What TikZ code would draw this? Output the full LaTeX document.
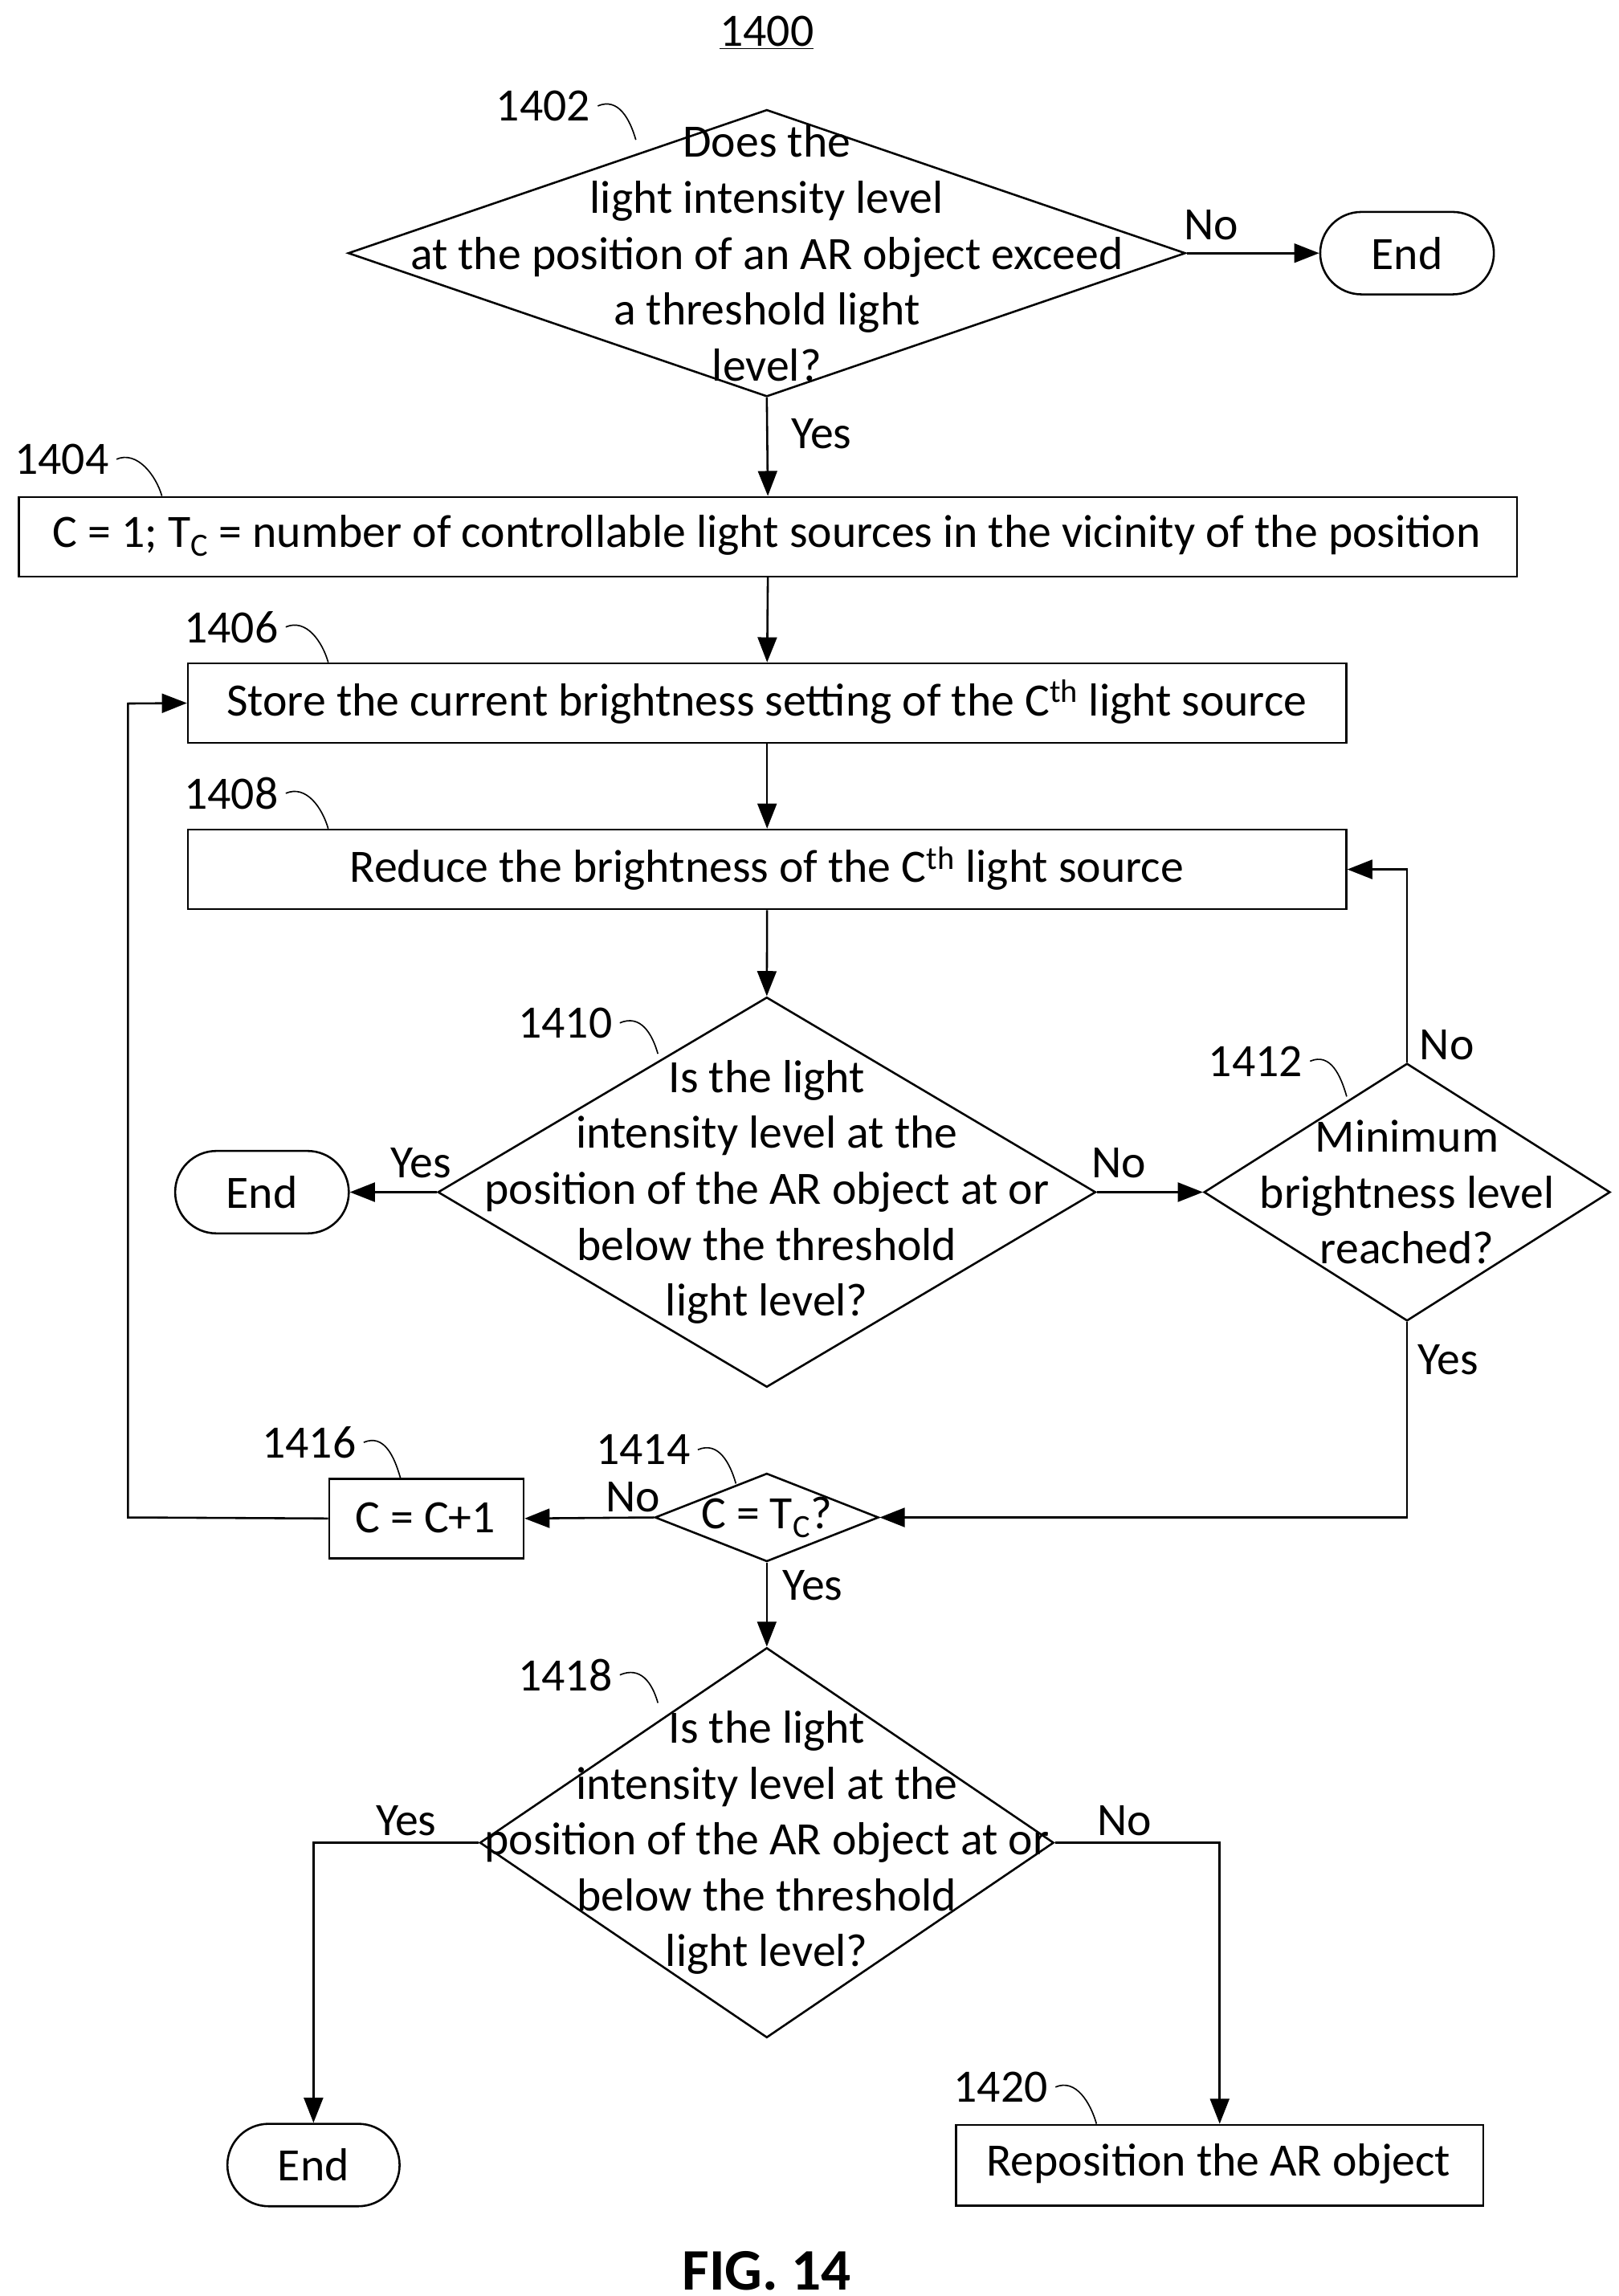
\documentclass[tikz,border=0pt]{standalone}
\usepackage{fontspec}
\setmainfont{Carlito}
\usetikzlibrary{shapes.geometric,shapes.misc,arrows.meta}
\begin{document}
\begin{tikzpicture}[x=1pt,y=-1pt,
  every node/.style={font=\fontsize{31.5}{38}\selectfont},
  ln/.style={line width=1.4pt},
  arr/.style={ln,-{Triangle[length=17pt,width=13pt]}},
  box/.style={draw,ln,rectangle,inner sep=0,anchor=north west},
  dia/.style={draw,ln,diamond,inner sep=0},
  term/.style={draw,ln,rounded rectangle,inner sep=0},
  tx/.style={align=center,inner sep=0},
  sq/.style={line width=0.9pt}]
\useasboundingbox (0,0) rectangle (1100,1560);
\node[tx] (title) at (521,22) {\underline{1400}};
% 1402
\node[dia,minimum width=569,minimum height=195] (d1) at (521,172) {};
\node[tx] (d1t) at (521,172) {Does the\\light intensity level\\at the position of an AR object exceed\\a threshold light\\level?};
\node[term,minimum width=118,minimum height=56] (e1) at (956,172) {End};
\draw[arr] (d1.east) -- (e1.west);
\node (n1) at (823,153) {No};
% 1404
\node[box,minimum width=1018,minimum height=54] (b4) at (12,337) {};
\node[tx] (b4t) at (521,364) {C = 1; T\textsubscript{C} = number of controllable light sources in the vicinity of the position};
\draw[arr] (d1.south) -- (b4.north);
\node (y1) at (558,295) {Yes};
% 1406
\node[box,minimum width=787,minimum height=54] (b6) at (127,450) {};
\node[tx] (b6t) at (521,477) {Store the current brightness setting of the C\textsuperscript{th} light source};
\draw[arr] (b4.south) -- (b6.north);
% 1408
\node[box,minimum width=787,minimum height=54] (b8) at (127,563) {};
\node[tx] (b8t) at (521,590) {Reduce the brightness of the C\textsuperscript{th} light source};
\draw[arr] (b6.south) -- (b8.north);
% 1410
\node[dia,minimum width=447,minimum height=265] (d10) at (521,810) {};
\node[tx] (d10t) at (521,810) {Is the light\\intensity level at the\\position of the AR object at or\\below the threshold\\light level?};
\draw[arr] (b8.south) -- (d10.north);
\node[term,minimum width=118,minimum height=56] (e2) at (178,810) {End};
\draw[arr] (d10.west) -- (e2.east);
\node (y2) at (286,790) {Yes};
% 1412
\node[dia,minimum width=276,minimum height=175] (d12) at (956,810) {};
\node[tx] (d12t) at (956,810) {Minimum\\brightness level\\reached?};
\draw[arr] (d10.east) -- (d12.west);
\node (n2) at (760,790) {No};
\draw[arr] (d12.north) |- (b8.east);
\node (n3) at (983,710) {No};
% 1414
\node[dia,minimum width=152,minimum height=60] (d14) at (521,1031) {};
\node[tx] (d14t) at (521,1031) {C = T\textsubscript{C}?};
\draw[arr] (d12.south) |- (d14.east);
\node (y3) at (984,924) {Yes};
% 1416
\node[box,minimum width=132,minimum height=54] (b16) at (223,1004) {};
\node[tx] (b16t) at (289,1031) {C = C+1};
\draw[arr] (d14.west) -- (b16.east);
\node (n4) at (430,1017) {No};
\coordinate (l1) at (87,1031);
\coordinate (l2) at (87,478);
\draw[arr] (b16.west) -- (l1) -- (l2) -- (b6.west);
% 1418
\node[dia,minimum width=390,minimum height=265] (d18) at (521,1252) {};
\node[tx] (d18t) at (521,1252) {Is the light\\intensity level at the\\position of the AR object at or\\below the threshold\\light level?};
\draw[arr] (d14.south) -- (d18.north);
\node (y4) at (552,1077) {Yes};
\node[term,minimum width=117,minimum height=56] (e3) at (213,1471) {End};
\draw[arr] (d18.west) -| (e3.north);
\node (y5) at (276,1237) {Yes};
\node[box,minimum width=358,minimum height=55] (b20) at (649,1443) {};
\node[tx] (b20t) at (828,1470) {Reposition the AR object};
\draw[arr] (d18.east) -| (b20.north);
\node (n5) at (764,1237) {No};
\node[tx,font=\bfseries\fontsize{40}{44}\selectfont] (fig) at (521,1543) {FIG. 14};
% reference labels
\foreach \t/\x/\y/\ex/\ey in {1402/369/72/432/95, 1404/42/312/110/337, 1406/157/426/223/450, 1408/157/539/223/563, 1410/384/695/447/716, 1412/853/721/915/745, 1414/437/985/500/1008, 1416/210/980/272/1004, 1418/384/1138/447/1157, 1420/680/1418/745/1443}{
  \node[tx] (L\t) at (\x,\y) {\t};
  \coordinate (E\t) at (\ex,\ey);
  \draw[sq] (L\t.east) ++(5,0) .. controls +(14,-6) and +(-4,-14) .. (E\t);
}
\end{tikzpicture}
\end{document}
